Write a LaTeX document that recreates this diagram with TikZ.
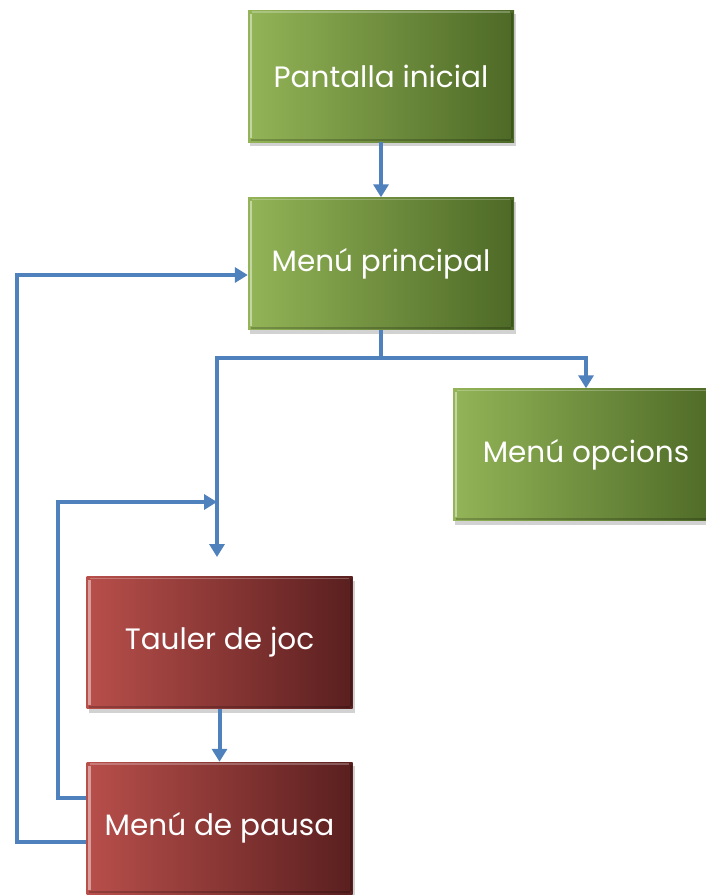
\documentclass[tikz,border=0pt]{standalone}
\usepackage{fontspec}
\setmainfont{Poppins}
\usetikzlibrary{arrows.meta,shadows,calc}
\definecolor{arrowblue}{HTML}{4F81BD}
\definecolor{gL}{HTML}{93B457}
\definecolor{gM}{HTML}{7A9A43}
\definecolor{gR}{HTML}{4D6926}
\definecolor{rL}{HTML}{B84F4B}
\definecolor{rM}{HTML}{873634}
\definecolor{rR}{HTML}{5A1F1F}
\begin{document}
\begin{tikzpicture}[x=1pt,y=-1pt,
  box/.style={minimum width=266pt, minimum height=132pt, inner sep=0pt,
    font=\fontsize{29.5}{34}\selectfont, text=white,
    drop shadow={shadow xshift=2pt, shadow yshift=-4pt, opacity=0.35}},
  greenbox/.style={box, left color=gL, middle color=gM, right color=gR},
  redbox/.style={box, left color=rL, middle color=rM, right color=rR},
  conn/.style={draw=arrowblue, line width=4pt},
  tip/.style={-{Triangle[width=15pt,length=13pt]}},
  bevel/.style={draw=white, opacity=0.45, line width=2.5pt}]
\fill[white] (0,0) rectangle (706,895);
\useasboundingbox (0,0) rectangle (706,895);

\node[greenbox] (pi) at (381,76) {Pantalla inicial};
\node[greenbox] (mp) at (381,263.5) {Menú principal};
\node[greenbox] (mo) at (586,454.5) {Menú opcions};
\node[redbox] (tj) at (219.5,642.5) {Tauler de joc};
\node[redbox] (mpa) at (219.5,828) {Menú de pausa};

\foreach \n in {pi,mp,mo,tj,mpa}{
  \draw[bevel] ($(\n.north west)+(3,4)$) -- ($(\n.south west)+(3,-4)$);
  \draw[draw=white, opacity=0.25, line width=1.5pt] ($(\n.north west)+(4,2)$) -- ($(\n.north east)+(-4,2)$);
  \draw[draw=black, opacity=0.2, line width=2pt] ($(\n.north east)+(-2,3)$) -- ($(\n.south east)+(-2,-3)$);
  \draw[draw=black, opacity=0.2, line width=2pt] ($(\n.south west)+(3,-2)$) -- ($(\n.south east)+(-3,-2)$);
}

\coordinate (split) at (381,358);
\coordinate (splitL) at (217,358);
\coordinate (down) at (217,557);
\coordinate (join) at (217,502);
\coordinate (mpin) at (mp.west |- 0,275);
\coordinate (pa1) at (mpa.west |- 0,798);
\coordinate (pa2) at (mpa.west |- 0,842);

\draw[conn,tip] (pi.south) -- (mp.north);
\draw[conn] (mp.south) -- (split);
\draw[conn,tip] (split) -| (mo.north);
\draw[conn,tip] (split) -- (splitL) -- (down);
\draw[conn,tip] (tj.south) -- (mpa.north);
\draw[conn,tip] (pa1) -- (58,798) |- (join);
\draw[conn,tip] (pa2) -- (17,842) |- (mpin);
\end{tikzpicture}
\end{document}
